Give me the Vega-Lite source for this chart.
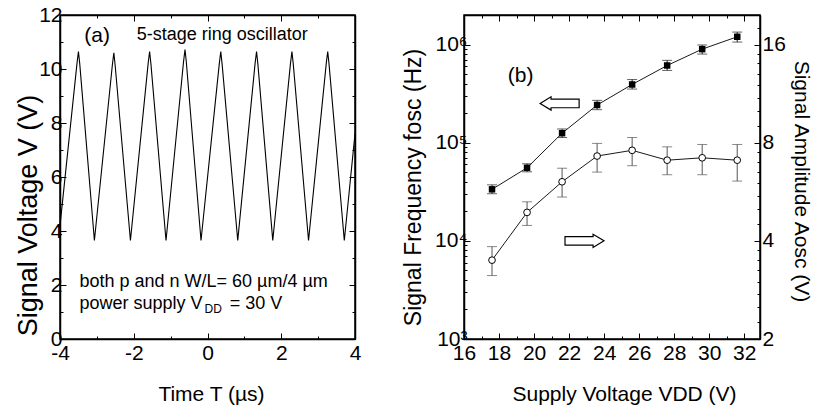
{
  "$schema": "https://vega.github.io/schema/vega-lite/v6.json",
  "background": "white",
  "padding": {"left": 13, "top": 3, "right": 0, "bottom": 0},
  "spacing": 39,
  "config": {
    "font": "Liberation Sans",
    "view": {"stroke": "black", "strokeWidth": 1.5},
    "axis": {"grid": false, "domainColor": "black", "domainWidth": 1.5, "tickColor": "black", "tickWidth": 1, "labelColor": "black", "titleColor": "black", "labelFont": "Liberation Sans", "titleFont": "Liberation Sans", "labelFontSize": 21, "titleFontSize": 21, "titleFontWeight": "normal", "labelFlush": false, "labelOverlap": false},
    "text": {"font": "Liberation Sans", "fontSize": 18, "color": "black"}
  },
  "datasets": {
    "wave": [
      {"t": -4.0, "v": 4.2},
      {"t": -3.54, "v": 10.2}, {"t": -3.5, "v": 10.65}, {"t": -3.465, "v": 10.2},
      {"t": -3.067, "v": 3.65},
      {"t": -2.58, "v": 10.15}, {"t": -2.54, "v": 10.6}, {"t": -2.505, "v": 10.15},
      {"t": -2.09, "v": 3.65},
      {"t": -1.61, "v": 10.2}, {"t": -1.57, "v": 10.65}, {"t": -1.535, "v": 10.2},
      {"t": -1.125, "v": 3.65},
      {"t": -0.65, "v": 10.27}, {"t": -0.61, "v": 10.72}, {"t": -0.575, "v": 10.27},
      {"t": -0.176, "v": 3.65},
      {"t": 0.32, "v": 10.2}, {"t": 0.36, "v": 10.65}, {"t": 0.395, "v": 10.2},
      {"t": 0.82, "v": 3.65},
      {"t": 1.29, "v": 10.2}, {"t": 1.33, "v": 10.65}, {"t": 1.365, "v": 10.2},
      {"t": 1.77, "v": 3.65},
      {"t": 2.25, "v": 10.2}, {"t": 2.29, "v": 10.65}, {"t": 2.325, "v": 10.2},
      {"t": 2.74, "v": 3.65},
      {"t": 3.22, "v": 10.2}, {"t": 3.26, "v": 10.65}, {"t": 3.295, "v": 10.2},
      {"t": 3.71, "v": 3.65},
      {"t": 4.0, "v": 7.6}
    ],
    "notesA": [
      {"t": -1.92, "v": 11.07, "label": "5-stage ring oscillator"},
      {"t": -3.474, "v": 1.92, "label": "both p and n W/L= 60 µm/4 µm"},
      {"t": -3.474, "v": 1.12, "label": "power supply V"},
      {"t": 0.6, "v": 1.12, "label": "= 30 V"}
    ],
    "titleA": [{"t": -3.34, "v": 10.99, "label": "(a)"}],
    "subA": [{"t": -0.08, "v": 0.97, "label": "DD"}],
    "vdd": [
      {"v": 17.6, "f": 33500, "flo": 30200, "fhi": 37200, "a": 3.49, "alo": 3.13, "ahi": 3.84},
      {"v": 19.6, "f": 55500, "flo": 50500, "fhi": 61000, "a": 4.89, "alo": 4.46, "ahi": 5.27},
      {"v": 21.6, "f": 125000, "flo": 113000, "fhi": 138000, "a": 6.07, "alo": 5.45, "ahi": 6.68},
      {"v": 23.6, "f": 242000, "flo": 217000, "fhi": 270000, "a": 7.28, "alo": 6.5, "ahi": 7.96},
      {"v": 25.6, "f": 392000, "flo": 352000, "fhi": 440000, "a": 7.58, "alo": 6.8, "ahi": 8.3},
      {"v": 27.6, "f": 612000, "flo": 545000, "fhi": 690000, "a": 7.07, "alo": 6.38, "ahi": 7.77},
      {"v": 29.6, "f": 898000, "flo": 800000, "fhi": 990000, "a": 7.19, "alo": 6.38, "ahi": 7.9},
      {"v": 31.6, "f": 1200000, "flo": 1060000, "fhi": 1340000, "a": 7.07, "alo": 6.1, "ahi": 7.9}
    ],
    "arrows": [
      {"v": 21.46, "f": 251000, "dir": "left"},
      {"v": 22.88, "f": 10000, "dir": "right"}
    ],
    "titleB": [{"v": 18.5, "f": 414000, "label": "(b)"}]
  },
  "hconcat": [
    {
      "width": 295,
      "height": 324,
      "layer": [
        {
          "data": {"name": "wave"},
          "mark": {"type": "line", "color": "black", "strokeWidth": 1.1},
          "encoding": {
            "x": {"field": "t", "type": "quantitative", "scale": {"domain": [-4, 4], "nice": false},
              "axis": {"orient": "bottom", "values": [-4, -3, -2, -1, 0, 1, 2, 3, 4], "labelExpr": "datum.value % 2 === 0 ? '' + datum.value : ''", "tickSize": {"condition": {"test": "datum.value % 2 === 0", "value": -6}, "value": -3}, "labelPadding": 9, "title": "Time T (µs)", "titlePadding": 17, "titleX": 151}},
            "y": {"field": "v", "type": "quantitative", "scale": {"domain": [0, 12], "nice": false},
              "axis": {"orient": "left", "values": [0, 1, 2, 3, 4, 5, 6, 7, 8, 9, 10, 11, 12], "labelExpr": "datum.value % 2 === 0 ? '' + datum.value : ''", "tickSize": {"condition": {"test": "datum.value % 2 === 0", "value": -6}, "value": -3}, "labelPadding": 4, "title": "Signal Voltage V (V)", "titleFontSize": 27, "titlePadding": -4, "titleY": 200}}
          }
        },
        {
          "data": {"name": "wave"},
          "mark": {"type": "line", "opacity": 0},
          "encoding": {
            "x": {"field": "t", "type": "quantitative", "scale": {"domain": [-4, 4], "nice": false},
              "axis": {"orient": "top", "values": [-4, -3, -2, -1, 0, 1, 2, 3, 4], "labels": false, "title": null, "tickSize": {"condition": {"test": "datum.value % 2 === 0", "value": -6}, "value": -3}}},
            "y": {"field": "v", "type": "quantitative", "scale": {"domain": [0, 12], "nice": false},
              "axis": {"orient": "right", "values": [0, 1, 2, 3, 4, 5, 6, 7, 8, 9, 10, 11, 12], "labels": false, "title": null, "tickSize": {"condition": {"test": "datum.value % 2 === 0", "value": -6}, "value": -3}}}
          }
        },
        {
          "data": {"name": "notesA"},
          "mark": {"type": "text", "align": "left", "baseline": "alphabetic", "fontSize": 18},
          "encoding": {
            "x": {"field": "t", "type": "quantitative", "axis": null},
            "y": {"field": "v", "type": "quantitative", "axis": null},
            "text": {"field": "label"}
          }
        },
        {
          "data": {"name": "titleA"},
          "mark": {"type": "text", "align": "left", "baseline": "alphabetic", "fontSize": 21},
          "encoding": {
            "x": {"field": "t", "type": "quantitative", "axis": null},
            "y": {"field": "v", "type": "quantitative", "axis": null},
            "text": {"field": "label"}
          }
        },
        {
          "data": {"name": "subA"},
          "mark": {"type": "text", "align": "left", "baseline": "alphabetic", "fontSize": 12},
          "encoding": {
            "x": {"field": "t", "type": "quantitative", "axis": null},
            "y": {"field": "v", "type": "quantitative", "axis": null},
            "text": {"field": "label"}
          }
        }
      ],
      "resolve": {"axis": {"x": "independent", "y": "independent"}}
    },
    {
      "width": 296,
      "height": 324,
      "layer": [
        {
          "data": {"name": "vdd"},
          "mark": {"type": "line", "color": "black", "strokeWidth": 0.9},
          "encoding": {
            "x": {"field": "v", "type": "quantitative", "scale": {"domain": [16, 32.9], "nice": false},
              "axis": {"orient": "bottom", "values": [16, 17, 18, 19, 20, 21, 22, 23, 24, 25, 26, 27, 28, 29, 30, 31, 32], "labelExpr": "datum.value % 2 === 0 ? '' + datum.value : ''", "tickSize": {"condition": {"test": "datum.value % 2 === 0", "value": -6}, "value": -3}, "labelPadding": 9, "title": "Supply Voltage VDD (V)", "titlePadding": 17, "titleX": 160}},
            "y": {"field": "f", "type": "quantitative", "scale": {"type": "log", "domain": [1000, 2000000], "nice": false},
              "axis": {"orient": "left", "values": [1000, 2000, 3000, 4000, 5000, 6000, 7000, 8000, 9000, 10000, 20000, 30000, 40000, 50000, 60000, 70000, 80000, 90000, 100000, 200000, 300000, 400000, 500000, 600000, 700000, 800000, 900000, 1000000, 2000000], "labelExpr": "datum.value == 1000 ? '10³' : datum.value == 10000 ? '10⁴' : datum.value == 100000 ? '10⁵' : datum.value == 1000000 ? '10⁶' : ''", "tickSize": {"condition": {"test": "indexof([1000, 10000, 100000, 1000000], datum.value) >= 0", "value": -6}, "value": -3}, "labelPadding": 3, "title": "Signal Frequency fosc (Hz)", "titleFontSize": 23, "titlePadding": 9, "titleY": 172}}
          }
        },
        {
          "data": {"name": "vdd"},
          "mark": {"type": "errorbar", "ticks": true, "size": 10, "thickness": 1, "color": "#222"},
          "encoding": {
            "x": {"field": "v", "type": "quantitative", "scale": {"domain": [16, 32.9], "nice": false}, "axis": null},
            "y": {"field": "flo", "type": "quantitative", "scale": {"type": "log", "domain": [1000, 2000000], "nice": false}, "axis": null},
            "y2": {"field": "fhi"}
          }
        },
        {
          "data": {"name": "vdd"},
          "mark": {"type": "point", "shape": "square", "filled": true, "color": "black", "size": 42, "opacity": 1},
          "encoding": {
            "x": {"field": "v", "type": "quantitative", "scale": {"domain": [16, 32.9], "nice": false}, "axis": null},
            "y": {"field": "f", "type": "quantitative", "scale": {"type": "log", "domain": [1000, 2000000], "nice": false}, "axis": null}
          }
        },
        {
          "data": {"name": "arrows"},
          "mark": {"type": "point", "filled": true, "fill": "white", "stroke": "black", "strokeWidth": 1.2, "size": 1521, "opacity": 1},
          "encoding": {
            "x": {"field": "v", "type": "quantitative", "scale": {"domain": [16, 32.9], "nice": false}, "axis": null},
            "y": {"field": "f", "type": "quantitative", "scale": {"type": "log", "domain": [1000, 2000000], "nice": false}, "axis": null},
            "shape": {"field": "dir", "type": "nominal", "legend": null, "scale": {"domain": ["left", "right"], "range": ["M -1 0 L -0.44 -0.34 L -0.44 -0.22 L 1 -0.22 L 1 0.22 L -0.44 0.22 L -0.44 0.34 Z", "M 1 0 L 0.44 -0.34 L 0.44 -0.22 L -1 -0.22 L -1 0.22 L 0.44 0.22 L 0.44 0.34 Z"]}}
          }
        },
        {
          "data": {"name": "titleB"},
          "mark": {"type": "text", "align": "left", "baseline": "alphabetic", "fontSize": 21},
          "encoding": {
            "x": {"field": "v", "type": "quantitative", "scale": {"domain": [16, 32.9], "nice": false}, "axis": null},
            "y": {"field": "f", "type": "quantitative", "scale": {"type": "log", "domain": [1000, 2000000], "nice": false}, "axis": null},
            "text": {"field": "label"}
          }
        },
        {
          "data": {"name": "vdd"},
          "mark": {"type": "line", "color": "black", "strokeWidth": 0.9},
          "encoding": {
            "x": {"field": "v", "type": "quantitative", "scale": {"domain": [16, 32.9], "nice": false},
              "axis": {"orient": "top", "values": [16, 17, 18, 19, 20, 21, 22, 23, 24, 25, 26, 27, 28, 29, 30, 31, 32], "labels": false, "title": null, "tickSize": {"condition": {"test": "datum.value % 2 === 0", "value": -6}, "value": -3}}},
            "y": {"field": "a", "type": "quantitative", "scale": {"type": "log", "base": 2, "domain": [2, 19.71], "nice": false},
              "axis": {"orient": "right", "values": [2, 2.25, 2.5, 2.75, 3, 3.25, 3.5, 3.75, 4, 4.5, 5, 5.5, 6, 6.5, 7, 7.5, 8, 9, 10, 11, 12, 13, 14, 15, 16, 18], "labelExpr": "indexof([2, 4, 8, 16], datum.value) >= 0 ? datum.label : ''", "tickSize": {"condition": {"test": "indexof([2, 4, 8, 16], datum.value) >= 0", "value": -6}, "value": -3}, "labelPadding": 8, "title": "Signal Amplitude Aosc (V)", "titlePadding": 5, "titleY": 166}}
          }
        },
        {
          "data": {"name": "vdd"},
          "mark": {"type": "errorbar", "ticks": true, "size": 10, "thickness": 1, "color": "#555"},
          "encoding": {
            "x": {"field": "v", "type": "quantitative", "scale": {"domain": [16, 32.9], "nice": false}, "axis": null},
            "y": {"field": "alo", "type": "quantitative", "scale": {"type": "log", "base": 2, "domain": [2, 19.71], "nice": false}, "axis": null},
            "y2": {"field": "ahi"}
          }
        },
        {
          "data": {"name": "vdd"},
          "mark": {"type": "point", "shape": "circle", "filled": true, "fill": "white", "stroke": "black", "strokeWidth": 1, "size": 45, "opacity": 1},
          "encoding": {
            "x": {"field": "v", "type": "quantitative", "scale": {"domain": [16, 32.9], "nice": false}, "axis": null},
            "y": {"field": "a", "type": "quantitative", "scale": {"type": "log", "base": 2, "domain": [2, 19.71], "nice": false}, "axis": null}
          }
        }
      ],
      "resolve": {"scale": {"y": "independent"}, "axis": {"x": "independent", "y": "independent"}}
    }
  ]
}
